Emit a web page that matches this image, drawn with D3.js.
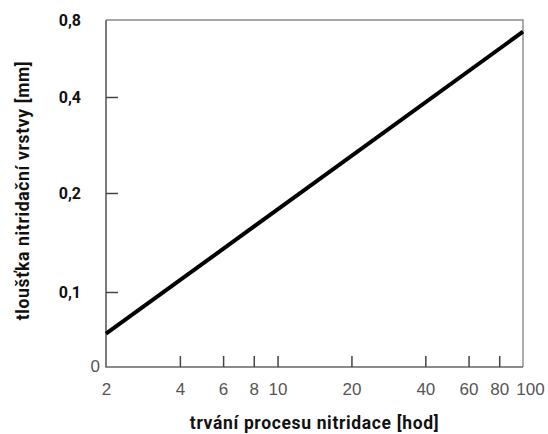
<!DOCTYPE html>
<html>
<head>
<meta charset="utf-8">
<script src="https://cdn.jsdelivr.net/npm/d3@7"></script>
<style>
  body { margin: 0; background: #fff; }
  svg { display: block; }
</style>
</head>
<body>
<script>
// duration of nitriding [h] vs. layer thickness [mm], log-log
const xTicks = [2, 4, 6, 8, 10, 20, 40, 60, 80, 100]
const yTicks = [0.05, 0.1, 0.2, 0.4, 0.8]
const yLabels = ["0", "0,1", "0,2", "0,4", "0,8"]
const hours = [2, 100]
const thickness = [0.068, 0.72]

const width = 548
const height = 434
const mLeft = 106, mRight = 523, mTop = 20, mBottom = 367

const svg = d3.select("body").append("svg")
    .attr("width", width)
    .attr("height", height)

const x = d3.scaleLog()
    .domain([2, 100])
    .range([mLeft, mRight])

// the printed axis is not evenly spaced, so map it piece by piece
const y = d3.scaleLog()
    .domain(yTicks)
    .range([mBottom, 292, 193, 97, mTop])

// frame: left/bottom darker, top/right lighter like the scan
svg.append("path")
    .attr("d", `M${mLeft},${mTop}H${mRight}V${mBottom}`)
    .attr("fill", "none")
    .attr("stroke", "#8a8a8a")
    .attr("stroke-width", 1.4)
svg.append("path")
    .attr("d", `M${mLeft},${mTop}V${mBottom}H${mRight}`)
    .attr("fill", "none")
    .attr("stroke", "#666")
    .attr("stroke-width", 1.7)

const xAxis = svg.append("g")
    .attr("transform", `translate(0,${mBottom})`)
    .call(d3.axisBottom(x)
        .tickValues(xTicks)
        .tickFormat(d3.format("d"))
        .tickSizeInner(-11)
        .tickSizeOuter(0)
        .tickPadding(16))
xAxis.select(".domain").remove()
xAxis.selectAll(".tick line")
    .attr("stroke", "#444")
    .attr("stroke-width", 1.5)
    .filter(d => d === 2 || d === 100).remove()
xAxis.selectAll(".tick text")
    .attr("fill", "#555")
    .style("font-family", "'Liberation Sans', Arial, sans-serif")
    .style("font-size", "17px")
xAxis.selectAll(".tick text")
    .filter(d => d === 100)
    .attr("x", 7)

const yAxis = svg.append("g")
    .attr("transform", `translate(${mLeft},0)`)
    .call(d3.axisLeft(y)
        .tickValues(yTicks)
        .tickFormat((d, i) => yLabels[i])
        .tickSizeInner(-12)
        .tickSizeOuter(0)
        .tickPadding(25))
yAxis.select(".domain").remove()
yAxis.selectAll(".tick line")
    .attr("stroke", "#444")
    .attr("stroke-width", 1.5)
    .filter(d => d === 0.05 || d === 0.8).remove()
yAxis.selectAll(".tick text")
    .attr("x", -25)
    .attr("fill", "#111")
    .style("font-family", "Roboto, 'Noto Sans', sans-serif")
    .style("font-weight", "700")
    .style("font-size", "16px")
yAxis.selectAll(".tick text")
    .filter(d => d === 0.05)
    .attr("x", -6)
    .attr("dy", "0.25em")
    .attr("fill", "#555")
    .style("font-family", "'Liberation Sans', Arial, sans-serif")
    .style("font-weight", "400")
    .style("font-size", "17px")

// the line
const line = d3.line()
    .x(d => x(d[0]))
    .y(d => y(d[1]))
svg.append("path")
    .datum(d3.zip(hours, thickness))
    .attr("d", line)
    .attr("fill", "none")
    .attr("stroke", "#000")
    .attr("stroke-width", 4)

svg.append("text")
    .attr("x", (mLeft + mRight) / 2)
    .attr("y", 429)
    .attr("text-anchor", "middle")
    .style("font-family", "Roboto, 'Noto Sans', sans-serif")
    .style("font-weight", "700")
    .style("font-size", "17.5px")
    .style("letter-spacing", "0.65px")
    .attr("fill", "#111")
    .text("trvání procesu nitridace [hod]")

svg.append("text")
    .attr("transform", `translate(29,${(mTop + mBottom) / 2 - 3}) rotate(-90)`)
    .attr("text-anchor", "middle")
    .style("font-family", "Roboto, 'Noto Sans', sans-serif")
    .style("font-weight", "700")
    .style("font-size", "17.5px")
    .style("letter-spacing", "0.65px")
    .attr("fill", "#111")
    .text("tloušťka nitridační vrstvy [mm]")
</script>
</body>
</html>
